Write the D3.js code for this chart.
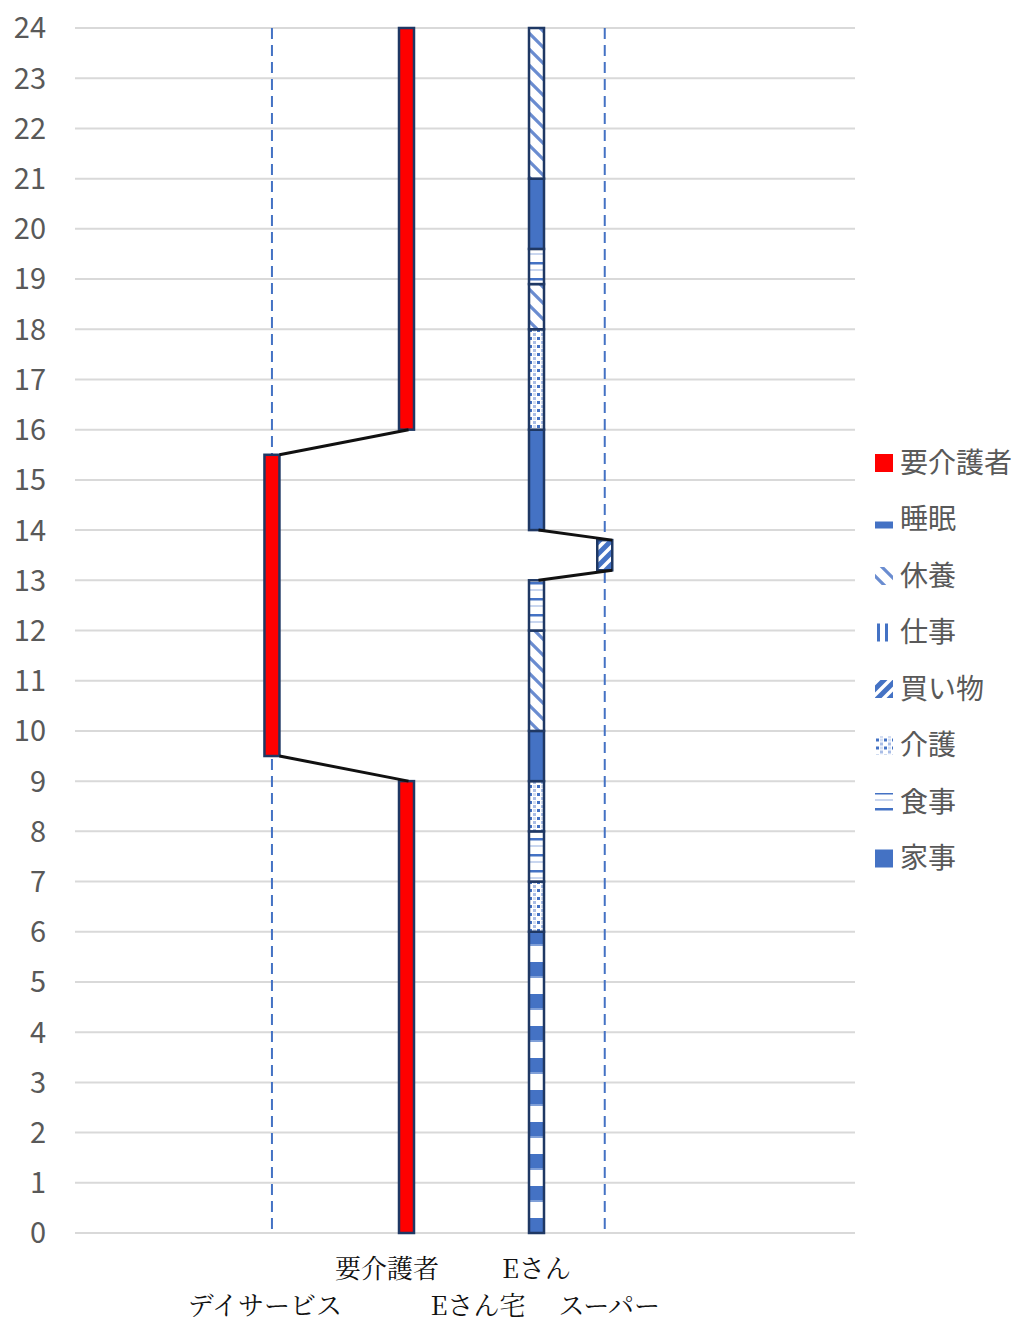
<!DOCTYPE html>
<html>
<head>
<meta charset="utf-8">
<script src="https://cdn.jsdelivr.net/npm/d3@7"></script>
<style>
  body { margin: 0; background: #fff; }
  svg { display: block; }
</style>
</head>
<body>
<svg id="chart"></svg>
<script>
// hour ticks on the y axis
var hourTicks = d3.range(0, 25);

// places (lanes) on the x axis, in axis units
var lanes = ["デイサービス", "要介護者", "Eさん", "スーパー"];
var laneX = [3.03, 5.1, 7.1, 8.15];

// category labels under the plot (row 0 = upper row, row 1 = lower row)
var axisLabels = ["デイサービス", "要介護者", "Eさん宅", "Eさん", "スーパー"];
var axisLabelX = [2.92, 4.8, 6.2, 7.1, 8.22];
var axisLabelRow = [1, 0, 1, 0, 1];

// 要介護者 : where the cared-for person is
var carerStart = [0, 9.5, 16];
var carerEnd = [9, 15.5, 24];
var carerPlace = ["要介護者", "デイサービス", "要介護者"];

// Eさん : activity blocks
var eStart = [0, 6, 7, 8, 9, 10, 12, 13.2, 14, 16, 18, 18.9, 19.6, 21];
var eEnd = [6, 7, 8, 9, 10, 12, 13, 13.8, 16, 18, 18.9, 19.6, 21, 24];
var eActivity = ["睡眠", "介護", "食事", "介護", "家事", "休養", "食事", "買い物", "家事", "介護", "休養", "食事", "家事", "休養"];
var ePlace = ["Eさん", "Eさん", "Eさん", "Eさん", "Eさん", "Eさん", "Eさん", "スーパー", "Eさん", "Eさん", "Eさん", "Eさん", "Eさん", "Eさん"];

// moves between places
var linkFromPlace = ["要介護者", "デイサービス", "Eさん", "スーパー"];
var linkFromHour = [16, 9.5, 14, 13.2];
var linkToPlace = ["デイサービス", "要介護者", "スーパー", "Eさん"];
var linkToHour = [15.5, 9, 13.8, 13];

// legend order
var legendNames = ["要介護者", "睡眠", "休養", "仕事", "買い物", "介護", "食事", "家事"];

var W = 1023, H = 1325;
var blue = "#4472C4", light = "#A9BDE6", navy = "#1F3864";
var barW = 15;

var svg = d3.select("#chart").attr("width", W).attr("height", H);
svg.append("rect").attr("width", W).attr("height", H).attr("fill", "#fff");

var x = d3.scaleLinear().domain([0, 12]).range([75, 855]);
var y = d3.scaleLinear().domain([0, 24]).range([1233, 28]);
var laneScale = d3.scaleOrdinal().domain(lanes).range(laneX.map(function (v) { return x(v); }));

// patterns
var defs = svg.append("defs");
function pattern(id, w, h) {
    return defs.append("pattern").attr("id", id)
        .attr("patternUnits", "userSpaceOnUse")
        .attr("width", w).attr("height", h);
}
var p;
// 睡眠 : wide horizontal bands
p = pattern("p-sleep", 8, 32);
p.append("rect").attr("width", 8).attr("height", 32).attr("fill", "#fff");
p.append("rect").attr("y", 2).attr("width", 8).attr("height", 14).attr("fill", blue);
p.append("rect").attr("y", 16).attr("width", 8).attr("height", 2).attr("fill", "#7f9fd8");
// 休養 : downward diagonals
p = pattern("p-rest", 16, 16);
p.append("rect").attr("width", 16).attr("height", 16).attr("fill", "#fff");
p.append("path").attr("d", "M-2,-2L18,18M-10,6L2,18M14,-2L18,2")
    .attr("stroke", "#6a8cd0").attr("stroke-width", 3.2);
// 仕事 : vertical lines
p = pattern("p-work", 8, 8);
p.append("rect").attr("width", 8).attr("height", 8).attr("fill", "#fff");
p.append("rect").attr("x", 2).attr("width", 3).attr("height", 8).attr("fill", blue);
// 買い物 : wide upward diagonals
p = pattern("p-shop", 12, 12);
p.append("rect").attr("width", 12).attr("height", 12).attr("fill", "#fff");
p.append("path").attr("d", "M-3,15L15,-3M-9,9L9,-9M3,21L21,3")
    .attr("stroke", blue).attr("stroke-width", 5);
// 介護 : dots
p = pattern("p-care", 8, 8);
p.append("rect").attr("width", 8).attr("height", 8).attr("fill", "#fff");
p.append("rect").attr("x", 1).attr("y", 1).attr("width", 3).attr("height", 3).attr("fill", blue);
p.append("rect").attr("x", 5).attr("y", 5).attr("width", 3).attr("height", 3).attr("fill", light);
p.append("rect").attr("x", 5).attr("y", 1).attr("width", 3).attr("height", 3).attr("fill", "#d4def2");
// 食事 : thin horizontal lines
p = pattern("p-meal", 8, 16);
p.append("rect").attr("width", 8).attr("height", 16).attr("fill", "#fff");
p.append("rect").attr("y", 6).attr("width", 8).attr("height", 2.5).attr("fill", blue);
p.append("rect").attr("y", 13).attr("width", 8).attr("height", 2).attr("fill", "#c9d6ef");

var fills = {
    "要介護者": "#FF0000",
    "睡眠": "url(#p-sleep)",
    "休養": "url(#p-rest)",
    "仕事": "url(#p-work)",
    "買い物": "url(#p-shop)",
    "介護": "url(#p-care)",
    "食事": "url(#p-meal)",
    "家事": blue
};

// gridlines
svg.append("g").selectAll("line").data(hourTicks).enter().append("line")
    .attr("x1", x(0)).attr("x2", x(12))
    .attr("y1", function (d) { return y(d); }).attr("y2", function (d) { return y(d); })
    .attr("stroke", "#d9d9d9").attr("stroke-width", 2);

// y tick labels
svg.append("g").selectAll("text").data(hourTicks).enter().append("text")
    .attr("x", 46).attr("y", function (d) { return y(d); })
    .attr("dy", "0.36em")
    .attr("text-anchor", "end")
    .attr("font-family", "'Noto Sans CJK JP', sans-serif")
    .attr("font-size", 29).attr("fill", "#595959")
    .text(function (d) { return d; });

// dashed place lines
svg.append("g").selectAll("line").data(["デイサービス", "スーパー"]).enter().append("line")
    .attr("x1", function (d) { return laneScale(d); }).attr("x2", function (d) { return laneScale(d); })
    .attr("y1", y(24)).attr("y2", y(0) - 3)
    .attr("stroke", blue).attr("stroke-width", 2).attr("stroke-dasharray", "11 6");

// 要介護者 bars
svg.append("g").selectAll("rect").data(carerStart).enter().append("rect")
    .attr("x", function (d, i) { return laneScale(carerPlace[i]) - barW / 2; })
    .attr("y", function (d, i) { return y(carerEnd[i]); })
    .attr("width", barW)
    .attr("height", function (d, i) { return y(d) - y(carerEnd[i]); })
    .attr("fill", fills["要介護者"])
    .attr("stroke", navy).attr("stroke-width", 2.5);

// Eさん bars
svg.append("g").selectAll("rect").data(eStart).enter().append("rect")
    .attr("x", function (d, i) { return laneScale(ePlace[i]) - barW / 2; })
    .attr("y", function (d, i) { return y(eEnd[i]); })
    .attr("width", barW)
    .attr("height", function (d, i) { return y(d) - y(eEnd[i]); })
    .attr("fill", function (d, i) { return fills[eActivity[i]]; })
    .attr("stroke", navy).attr("stroke-width", 2.5);

// connectors: away places meet at the right edge of their bar
function linkX(place) {
    var away = place === "デイサービス" || place === "スーパー";
    return laneScale(place) + (away ? barW / 2 : 2);
}
svg.append("g").selectAll("line").data(linkFromHour).enter().append("line")
    .attr("x1", function (d, i) { return linkX(linkFromPlace[i]); })
    .attr("y1", function (d) { return y(d); })
    .attr("x2", function (d, i) { return linkX(linkToPlace[i]); })
    .attr("y2", function (d, i) { return y(linkToHour[i]); })
    .attr("stroke", "#111").attr("stroke-width", 3);

// x category labels
svg.append("g").selectAll("text").data(axisLabels).enter().append("text")
    .attr("x", function (d, i) { return x(axisLabelX[i]); })
    .attr("y", function (d, i) { return axisLabelRow[i] ? 1306 : 1269; })
    .attr("dy", "0.35em")
    .attr("text-anchor", "middle")
    .attr("font-family", "'Noto Serif CJK JP', 'Noto Sans CJK JP', serif")
    .attr("font-size", 26).attr("fill", "#111")
    .text(function (d) { return d; });

// legend
var legend = svg.append("g").selectAll("g").data(legendNames).enter().append("g")
    .attr("transform", function (d, i) { return "translate(875," + (463 + i * 56.5) + ")"; });
legend.append("rect")
    .attr("x", 0).attr("y", -9).attr("width", 18).attr("height", 18)
    .attr("fill", function (d) { return fills[d]; });
legend.append("text")
    .attr("x", 25).attr("dy", "0.35em")
    .attr("font-family", "'Noto Sans CJK JP', sans-serif")
    .attr("font-size", 28).attr("fill", "#595959")
    .text(function (d) { return d; });
</script>
</body>
</html>
